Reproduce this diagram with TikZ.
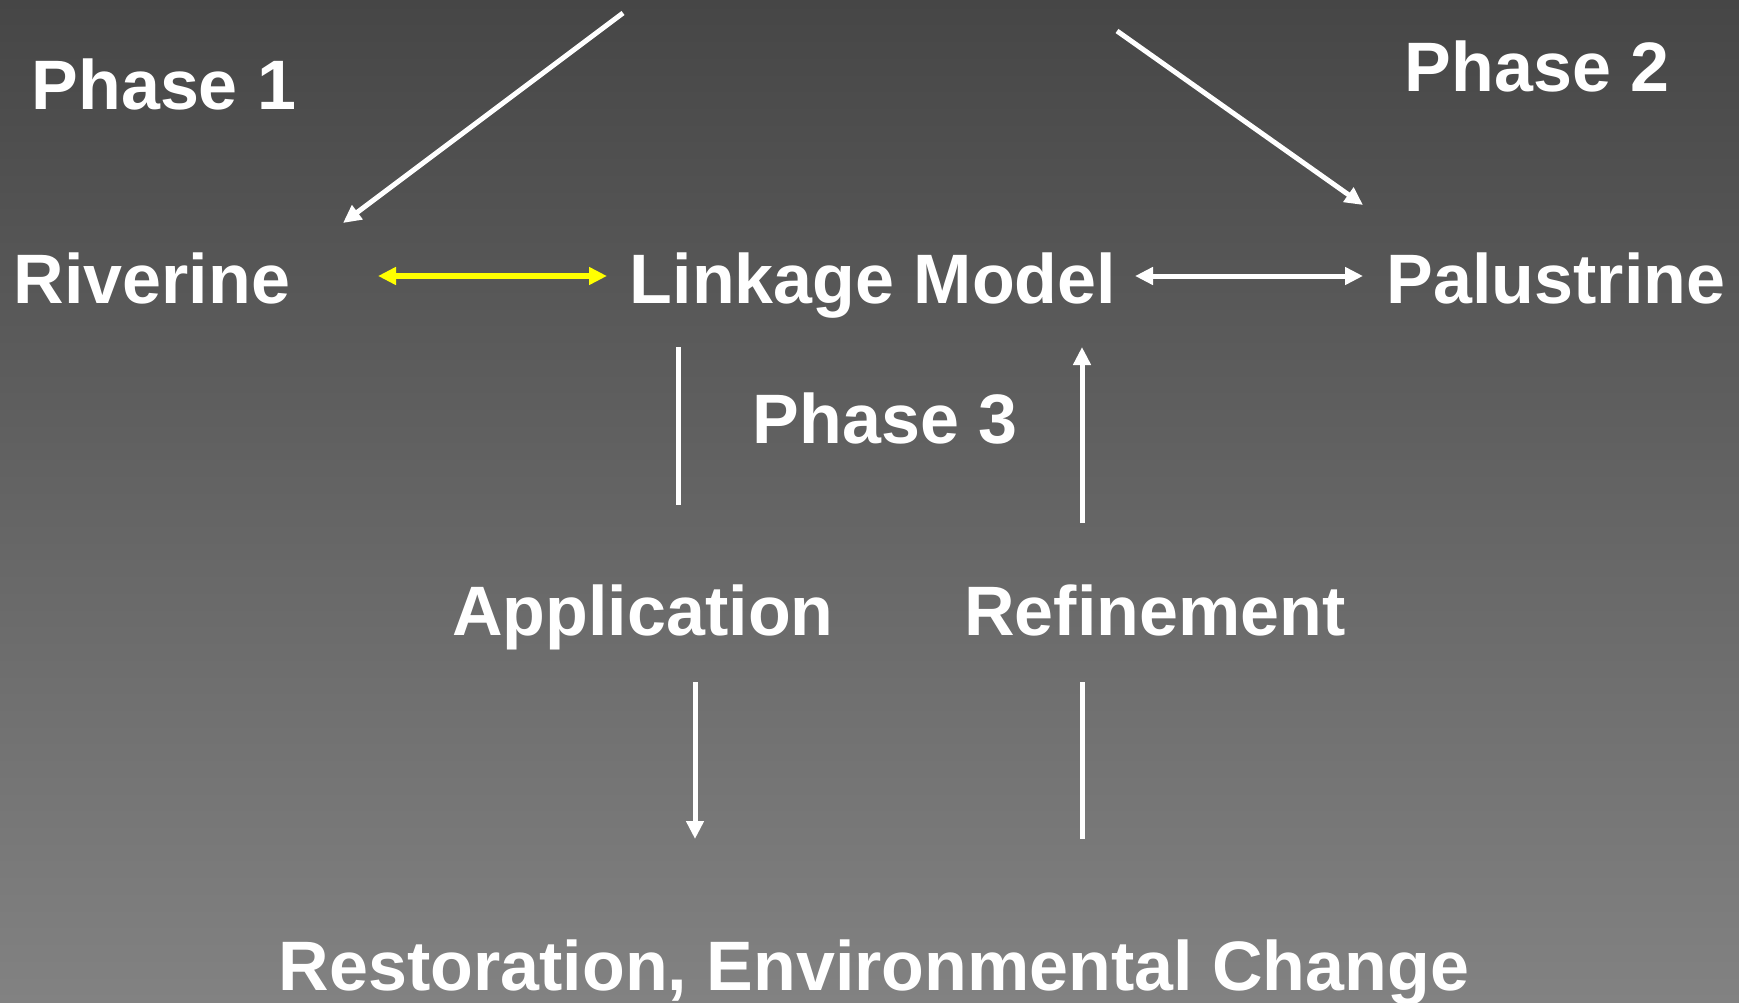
\documentclass[tikz,border=0pt]{standalone}
\usepackage{fontspec}
\setmainfont{Liberation Sans}
\usetikzlibrary{arrows.meta}
\definecolor{bgtop}{RGB}{70,70,70}
\definecolor{bgbot}{RGB}{130,130,130}
\definecolor{linkyellow}{RGB}{255,255,0}
\tikzset{
  label/.style={text=white, font=\fontsize{70}{84}\selectfont\bfseries, inner sep=0pt, anchor=base},
  wire/.style={draw=white, line width=5pt},
  >={Triangle[length=18pt,width=17pt]},
}
\begin{document}
\begin{tikzpicture}[x=1pt,y=-1pt]
  % background
  \fill[top color=bgtop, bottom color=bgbot] (0,0) rectangle (1739,1003);
  \useasboundingbox (0,0) rectangle (1739,1003);

  % labels
  \node[label] (ph1) at (164,110) {Phase 1};
  \node[label] (ph2) at (1537,92) {Phase 2};
  \node[label] (riv) at (152,303) {Riverine};
  \node[label] (link) at (873,303) {Linkage Model};
  \node[label] (pal) at (1556,303) {Palustrine};
  \node[label] (ph3) at (885,443) {Phase 3};
  \node[label] (app) at (643,635) {Application};
  \node[label] (ref) at (1155,635) {Refinement};
  \node[label] (rest) at (874,990) {Restoration, Environmental Change};

  % connector end points
  \coordinate (d1a) at (623,13);
  \coordinate (d1b) at (343,223);
  \coordinate (d2a) at (1117,31);
  \coordinate (d2b) at (1363,205);
  \coordinate (ya) at (378,276);
  \coordinate (yb) at (607,276);
  \coordinate (wa) at (1135,276);
  \coordinate (wb) at (1363,276);
  \coordinate (la) at (678,347);
  \coordinate (lb) at (678,505);
  \coordinate (ra) at (1082,523);
  \coordinate (rb) at (1082,347);
  \coordinate (da) at (695,682);
  \coordinate (db) at (695,839);
  \coordinate (ea) at (1082,682);
  \coordinate (eb) at (1082,839);

  % connectors
  \draw[wire, ->] (d1a) -- (d1b);
  \draw[wire, ->] (d2a) -- (d2b);
  \draw[draw=linkyellow, line width=6pt, <->] (ya) -- (yb);
  \draw[wire, <->] (wa) -- (wb);
  \draw[wire] (la) -- (lb);
  \draw[wire, ->] (ra) -- (rb);
  \draw[wire, ->] (da) -- (db);
  \draw[wire] (ea) -- (eb);
\end{tikzpicture}
\end{document}
